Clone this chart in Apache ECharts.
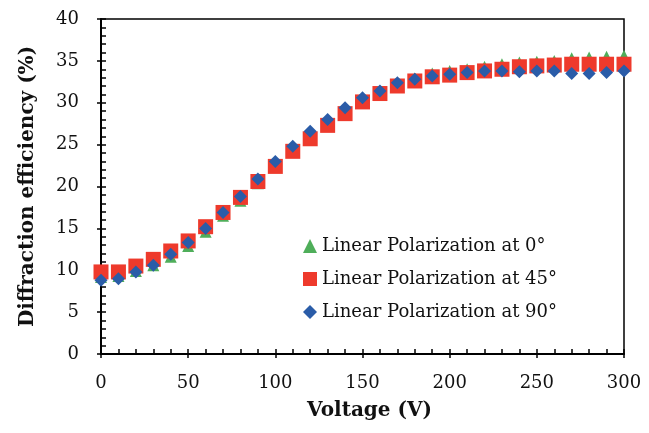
<!DOCTYPE html>
<html>
<head>
<meta charset="utf-8">
<script src="https://cdn.jsdelivr.net/npm/echarts@6/dist/echarts.min.js"></script>
<style>
  html, body { margin: 0; padding: 0; background: #fff; }
  #chart { width: 649px; height: 433px; }
</style>
</head>
<body>
<div id="chart"></div>
<script>
// voltage steps (V)
var voltage = [0, 10, 20, 30, 40, 50, 60, 70, 80, 90, 100, 110, 120, 130, 140, 150,
  160, 170, 180, 190, 200, 210, 220, 230, 240, 250, 260, 270, 280, 290, 300];

// diffraction efficiency (%) per polarization angle
var pol0 = [9.2, 9.3, 9.9, 10.6, 11.6, 12.9, 14.6, 16.5, 18.3, 20.4, 22.5, 24.4, 26.2, 27.8, 29.1, 30.4,
  31.4, 32.3, 32.9, 33.5, 33.8, 34.0, 34.3, 34.6, 34.8, 34.9, 35.0, 35.3, 35.4, 35.5, 35.6];
var pol45 = [9.8, 9.8, 10.5, 11.3, 12.3, 13.5, 15.2, 16.9, 18.7, 20.6, 22.4, 24.2, 25.7, 27.3, 28.7, 30.1,
  31.1, 32.0, 32.6, 33.1, 33.3, 33.6, 33.8, 34.0, 34.3, 34.4, 34.5, 34.6, 34.6, 34.6, 34.6];
var pol90 = [8.8, 9.0, 9.8, 10.6, 11.9, 13.3, 15.0, 16.9, 18.8, 20.9, 23.0, 24.8, 26.6, 28.0, 29.4, 30.6,
  31.4, 32.4, 32.8, 33.2, 33.4, 33.6, 33.8, 33.8, 33.7, 33.8, 33.8, 33.5, 33.5, 33.6, 33.8];

var names = ['Linear Polarization at 0°', 'Linear Polarization at 45°', 'Linear Polarization at 90°'];

function pairs(ys) {
  var out = [];
  for (var i = 0; i < voltage.length; i++) {
    out.push([voltage[i], ys[i]]);
  }
  return out;
}

var chart = echarts.init(document.getElementById('chart'));
var font = 'DejaVu Serif';

var option = {
  animation: false,
  textStyle: { fontFamily: font, color: '#000' },
  grid: {
    left: 101, right: 25, top: 19, bottom: 79,
    show: true, borderColor: '#000', borderWidth: 1.5
  },
  legend: {
    orient: 'vertical',
    left: 298, top: 232,
    itemGap: 15,
    itemWidth: 14, itemHeight: 14,
    textStyle: { fontFamily: font, fontSize: 18, color: '#111' },
    data: [
      { name: names[0], icon: 'triangle' },
      { name: names[1], icon: 'rect' },
      { name: names[2], icon: 'diamond' }
    ]
  },
  xAxis: [{
    type: 'value', min: 0, max: 300, interval: 50,
    name: 'Voltage (V)', nameLocation: 'middle', nameGap: 47,
    nameTextStyle: { fontFamily: font, fontSize: 20, fontWeight: 'bold', color: '#111', padding: [0, 0, 0, 14] },
    axisLine: { show: true, lineStyle: { color: '#000', width: 2 } },
    axisTick: { show: true, inside: true, length: 5, lineStyle: { color: '#000', width: 1.5 } },
    minorTick: { show: true, splitNumber: 5, length: 5, lineStyle: { color: '#000', width: 1.5 } },
    axisLabel: { fontFamily: font, fontSize: 18, color: '#111', margin: 20 },
    splitLine: { show: false }
  }, {
    // outward half of the major ticks
    type: 'value', min: 0, max: 300, interval: 50, position: 'bottom',
    axisLine: { show: false },
    axisTick: { show: true, inside: false, length: 4, lineStyle: { color: '#000', width: 1.5 } },
    axisLabel: { show: false },
    splitLine: { show: false }
  }],
  yAxis: [{
    type: 'value', min: 0, max: 40, interval: 5,
    name: 'Diffraction efficiency (%)', nameLocation: 'middle', nameGap: 63,
    nameTextStyle: { fontFamily: font, fontSize: 20, fontWeight: 'bold', color: '#111' },
    axisLine: { show: true, lineStyle: { color: '#000', width: 2 } },
    axisTick: { show: true, inside: true, length: 5, lineStyle: { color: '#000', width: 1.5 } },
    minorTick: { show: true, splitNumber: 5, length: 5, lineStyle: { color: '#000', width: 1.5 } },
    axisLabel: { fontFamily: font, fontSize: 18, color: '#111', margin: 22 },
    splitLine: { show: false }
  }, {
    type: 'value', min: 0, max: 40, interval: 5, position: 'left',
    axisLine: { show: false },
    axisTick: { show: true, inside: false, length: 4, lineStyle: { color: '#000', width: 1.5 } },
    axisLabel: { show: false },
    splitLine: { show: false }
  }],
  series: [
    {
      name: names[0], type: 'scatter', symbol: 'triangle', symbolSize: 12,
      itemStyle: { color: '#4fae5a', opacity: 1 },
      data: pairs(pol0)
    },
    {
      name: names[1], type: 'scatter', symbol: 'rect', symbolSize: 15,
      itemStyle: { color: '#ee3a2c', opacity: 1 },
      data: pairs(pol45)
    },
    {
      name: names[2], type: 'scatter', symbol: 'diamond', symbolSize: 13,
      itemStyle: { color: '#2a5ca8', opacity: 1 },
      data: pairs(pol90)
    }
  ]
};

chart.setOption(option);
</script>
</body>
</html>
